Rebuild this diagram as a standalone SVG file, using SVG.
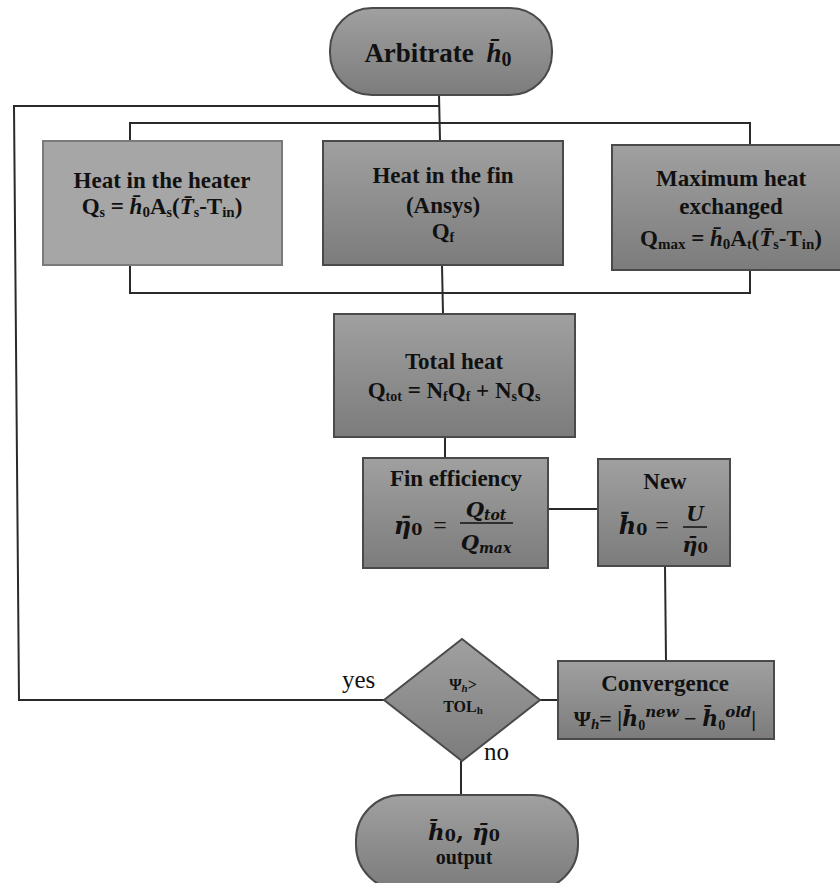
<svg xmlns="http://www.w3.org/2000/svg" width="840" height="883" viewBox="0 0 840 883">
<defs>
<linearGradient id="g" x1="0" y1="0" x2="0" y2="1">
<stop offset="0" stop-color="#a0a0a0"/>
<stop offset="1" stop-color="#7c7c7c"/>
</linearGradient>
<style>
.box{fill:url(#g);stroke:#4a4a4a;stroke-width:2}
.light{fill:#a6a6a6;stroke:#7a7a7a;stroke-width:2}
.ln{fill:none;stroke:#2a2a2a;stroke-width:2}
text{font-family:"Liberation Serif","Times New Roman",serif;font-weight:bold;fill:#111;text-anchor:middle}
.t{font-size:23px}
.m{font-family:"DejaVu Serif","Liberation Serif",serif;font-style:italic;font-weight:bold}
.i{font-style:italic}
.lab{font-weight:normal;font-size:25px;text-anchor:start}
</style>
</defs>
<rect width="840" height="883" fill="#ffffff"/>
<g id="connectors">
<line class="ln" x1="439" y1="94" x2="440" y2="141"/>
<polyline class="ln" points="439,106 14,106 19,700 384,700"/>
<polyline class="ln" points="130,141 130,123 750,123 750,145"/>
<polyline class="ln" points="130,265 130,293 750,293 750,270"/>
<line class="ln" x1="442" y1="265" x2="443" y2="314"/>
<line class="ln" x1="445" y1="437" x2="445" y2="458"/>
<line class="ln" x1="548" y1="509" x2="598" y2="509"/>
<line class="ln" x1="665" y1="566" x2="666" y2="661"/>
<line class="ln" x1="540" y1="700" x2="558" y2="700"/>
<line class="ln" x1="461" y1="761" x2="461" y2="795"/>
<text class="lab" x="342" y="688">yes</text>
<text class="lab" x="484" y="760">no</text>
</g>
<g id="start">
<rect class="box" x="330" y="8" width="222" height="87" rx="42"/>
<text x="438" y="62" style="font-size:27px">Arbitrate <tspan class="i" dx="6">h̄</tspan><tspan font-size="20" dy="4">0</tspan></text>
</g>
<g id="heater">
<rect class="light" x="43" y="141" width="239" height="124"/>
<text class="t" x="162" y="188">Heat in the heater</text>
<text class="t" x="162" y="214">Q<tspan font-size="14" dy="3">s</tspan><tspan dy="-3"> = </tspan><tspan class="i">h̄</tspan><tspan font-size="15" dy="3">0</tspan><tspan dy="-3">A</tspan><tspan font-size="14" dy="3">s</tspan><tspan dy="-3">(</tspan><tspan class="i">T̄</tspan><tspan font-size="14" dy="3">s</tspan><tspan dy="-3">-T</tspan><tspan font-size="15" dy="3">in</tspan><tspan dy="-3">)</tspan></text>
</g>
<g id="fin">
<rect class="box" x="323" y="141" width="240" height="124"/>
<text class="t" x="443" y="183">Heat in the fin</text>
<text class="t" x="443" y="213">(Ansys)</text>
<text class="t" x="443" y="239">Q<tspan font-size="14" dy="3">f</tspan></text>
</g>
<g id="maxheat">
<rect class="box" x="612" y="145" width="232" height="125"/>
<text class="t" x="731" y="186">Maximum heat</text>
<text class="t" x="731" y="214">exchanged</text>
<text class="t" x="731" y="246">Q<tspan font-size="15" dy="3">max</tspan><tspan dy="-3"> = </tspan><tspan class="i">h̄</tspan><tspan font-size="15" dy="3">0</tspan><tspan dy="-3">A</tspan><tspan font-size="14" dy="3">t</tspan><tspan dy="-3">(</tspan><tspan class="i">T̄</tspan><tspan font-size="14" dy="3">s</tspan><tspan dy="-3">-T</tspan><tspan font-size="15" dy="3">in</tspan><tspan dy="-3">)</tspan></text>
</g>
<g id="total">
<rect class="box" x="334" y="314" width="241" height="123"/>
<text class="t" x="454" y="369">Total heat</text>
<text class="t" x="454" y="398">Q<tspan font-size="14" dy="3">tot</tspan><tspan dy="-3"> = N</tspan><tspan font-size="14" dy="3">f</tspan><tspan dy="-3">Q</tspan><tspan font-size="14" dy="3">f</tspan><tspan dy="-3"> + N</tspan><tspan font-size="14" dy="3">s</tspan><tspan dy="-3">Q</tspan><tspan font-size="14" dy="3">s</tspan></text>
</g>
<g id="efficiency">
<rect class="box" x="363" y="458" width="185" height="110"/>
<text class="t" x="456" y="486">Fin efficiency</text>
<text class="m" x="408" y="534" style="font-size:24px">η̄<tspan font-size="16" font-style="normal" dy="1">0</tspan></text>
<text x="440" y="533" style="font-size:24px;font-weight:normal">=</text>
<text class="m" x="486" y="517" style="font-size:21px">Q<tspan font-size="14" dy="3">tot</tspan></text>
<line x1="460" y1="523" x2="513" y2="523" stroke="#111" stroke-width="1.5"/>
<text class="m" x="486" y="550" style="font-size:21px">Q<tspan font-size="14" dy="3">max</tspan></text>
</g>
<g id="newh">
<rect class="box" x="598" y="459" width="132" height="107"/>
<text class="t" x="665" y="489">New</text>
<text class="m" x="633" y="534" style="font-size:24px">h̄<tspan font-size="16" font-style="normal" dy="1">0</tspan></text>
<text x="662" y="533" style="font-size:24px;font-weight:normal">=</text>
<text class="m" x="695" y="521" style="font-size:20px">U</text>
<line x1="683" y1="527" x2="707" y2="527" stroke="#111" stroke-width="1.5"/>
<text class="m" x="695" y="552" style="font-size:21px">η̄<tspan font-size="15" font-style="normal" dy="1">0</tspan></text>
</g>
<g id="convergence">
<rect class="box" x="558" y="661" width="216" height="78"/>
<text class="t" x="665" y="691">Convergence</text>
<text x="665" y="726" style="font-size:22px">Ψ<tspan class="i" font-size="15" dy="3">h</tspan><tspan dy="-3">= |</tspan><tspan class="m">h̄</tspan><tspan font-size="14" dy="4">0</tspan><tspan class="m" font-size="15" dy="-13">new</tspan><tspan dy="9"> − </tspan><tspan class="m">h̄</tspan><tspan font-size="14" dy="4">0</tspan><tspan class="m" font-size="15" dy="-13">old</tspan><tspan dy="9">|</tspan></text>
</g>
<g id="decision">
<polygon class="box" points="384,700 462,639 540,700 462,761"/>
<text x="463" y="690" style="font-size:16px">Ψ<tspan class="i" font-size="11" dy="2">h</tspan><tspan dy="-2">&gt;</tspan></text>
<text x="463" y="712" style="font-size:16px">TOL<tspan font-size="11" dy="2">h</tspan></text>
</g>
<g id="output">
<rect class="box" x="356" y="795" width="222" height="95" rx="45"/>
<text class="m" x="464" y="840" style="font-size:23px">h̄<tspan font-size="16" font-style="normal" dy="1">0</tspan><tspan font-style="normal" dy="-1">, </tspan>η̄<tspan font-size="16" font-style="normal" dy="1">0</tspan></text>
<text x="464" y="864" style="font-size:20px">output</text>
</g>
</svg>
